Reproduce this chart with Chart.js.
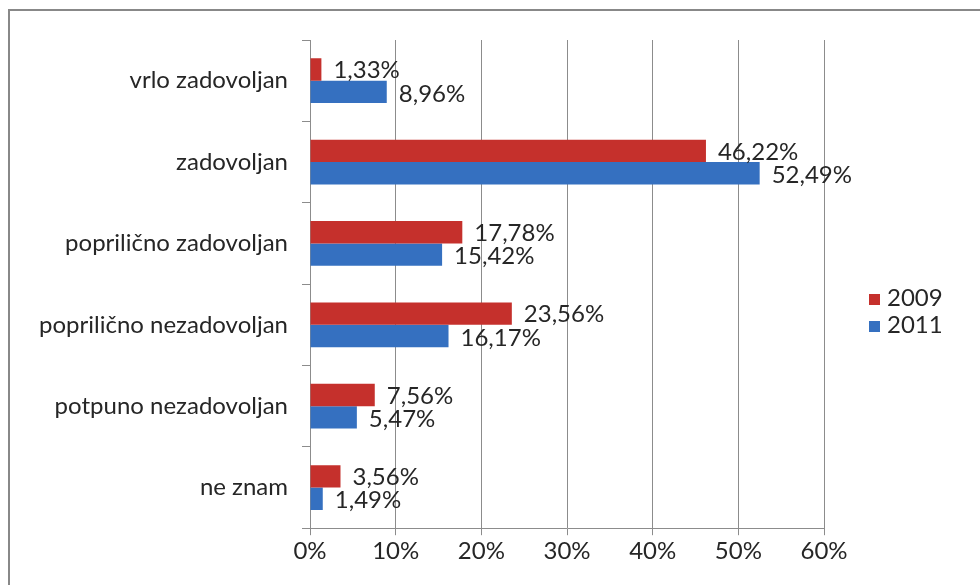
<!DOCTYPE html>
<html>
<head>
<meta charset="utf-8">
<script src="https://cdn.jsdelivr.net/npm/chart.js@4"></script>
<style>
  html, body { margin: 0; padding: 0; background: #fff; }
  #frame { position: absolute; left: 8px; top: 9px; width: 990px; height: 600px;
           border-left: 2px solid #888; border-top: 2px solid #888; }
  #wrap { position: absolute; left: 0; top: 0; width: 980px; height: 585px; }
  #legenda { position: absolute; left: 869px; top: 283px; font: 24px Lato, sans-serif; color: #262626; }
  #legenda div { height: 27px; line-height: 27px; white-space: nowrap; }
  #legenda span { display: inline-block; width: 11px; height: 11px; margin-right: 7px; vertical-align: 1px; }
</style>
</head>
<body>
<div id="frame"></div>
<div id="wrap"><canvas id="canvas"></canvas></div>
<div id="legenda"></div>
<script>
const kategorije = ["vrlo zadovoljan", "zadovoljan", "poprilično zadovoljan", "poprilično nezadovoljan", "potpuno nezadovoljan", "ne znam"];
const godine = ["2009", "2011"];
const boje = ["#c5302c", "#3570c0"];
const vrijednosti2009 = [1.33, 46.22, 17.78, 23.56, 7.56, 3.56];
const vrijednosti2011 = [8.96, 52.49, 15.42, 16.17, 5.47, 1.49];
const xTicks = [0, 10, 20, 30, 40, 50, 60];

const font = "Lato";
const velicina = 24;

function postotak(v) {
    return v.toFixed(2).replace(".", ",") + "%";
}

// labels to the right of each bar
const oznake = {
    id: "oznake",
    afterDatasetsDraw(chart) {
        const ctx = chart.ctx;
        ctx.save();
        ctx.font = velicina + "px " + font;
        ctx.fillStyle = "#262626";
        ctx.textBaseline = "middle";
        ctx.textAlign = "left";
        chart.data.datasets.forEach((ds, i) => {
            const meta = chart.getDatasetMeta(i);
            meta.data.forEach((bar, j) => {
                const dy = i === 0 ? 1 : 2;
                ctx.fillText(postotak(ds.data[j]), bar.x + 12, bar.y + dy);
            });
        });
        ctx.restore();
    }
};

// html legend
let legendaEl = document.getElementById("legenda");
godine.forEach((g, i) => {
    legendaEl.innerHTML += '<div><span style="background:' + boje[i] + '"></span>' + g + '</div>';
});

let ctx = document.getElementById("canvas").getContext("2d");

let graf = new Chart(ctx, {
    type: "bar",
    data: {
        labels: kategorije,
        datasets: [
            {
                label: godine[0],
                data: vrijednosti2009,
                backgroundColor: boje[0],
            },
            {
                label: godine[1],
                data: vrijednosti2011,
                backgroundColor: boje[1],
            }
        ],
    },
    plugins: [oznake],
    options: {
        indexAxis: "y",
        responsive: true,
        maintainAspectRatio: false,
        animation: false,
        layout: { padding: { top: 40, right: 156, bottom: 17, left: 0 } },
        datasets: { bar: { categoryPercentage: 0.55, barPercentage: 1 } },
        plugins: {
            tooltip: { enabled: false },
            legend: { display: false },
        },
        scales: {
            x: {
                min: 0,
                max: 60,
                afterBuildTicks(scale) {
                    scale.ticks = xTicks.map(v => ({ value: v }));
                },
                grid: { color: "#8c8c8c", tickLength: 7, lineWidth: 1 },
                border: { color: "#8c8c8c" },
                ticks: {
                    font: { family: font, size: velicina },
                    color: "#262626",
                    padding: 2,
                    callback: v => v + "%",
                },
            },
            y: {
                afterFit(scale) { scale.width = 310; },
                grid: { drawOnChartArea: false, color: "#8c8c8c", tickLength: 8 },
                border: { color: "#8c8c8c" },
                ticks: {
                    font: { family: font, size: velicina },
                    color: "#262626",
                    padding: 14,
                },
            },
        },
    },
});
</script>
</body>
</html>
